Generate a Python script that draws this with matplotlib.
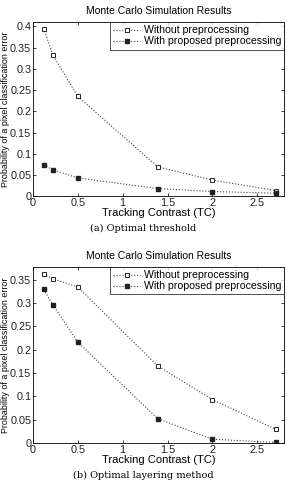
import matplotlib
matplotlib.use('Agg')
import matplotlib.pyplot as plt

# tracking contrast values (same for both panels)
tc = [0.12, 0.22, 0.5, 1.39, 2.0, 2.71]

# (a) optimal threshold
err_a_without = [0.395, 0.333, 0.235, 0.069, 0.038, 0.013]
err_a_with = [0.074, 0.062, 0.043, 0.018, 0.011, 0.007]

# (b) optimal layering method
err_b_without = [0.361, 0.352, 0.334, 0.165, 0.093, 0.029]
err_b_with = [0.329, 0.296, 0.216, 0.052, 0.008, 0.001]

legend_labels = ['Without preprocessing', 'With proposed preprocessing']
captions = ['(a) Optimal threshold', '(b) Optimal layering method']

plt.rcParams['font.family'] = ['Liberation Sans', 'DejaVu Sans']

fig = plt.figure(figsize=(2.87, 4.82), dpi=100)

def panel(rect, y1, y2, ymax, yticks):
    ax = fig.add_axes(rect)
    ax.plot(tc, y1, linestyle=':', color='#444444', lw=0.8, marker='s', ms=2.6,
            mfc='white', mec='#222222', mew=0.7, label=legend_labels[0])
    ax.plot(tc, y2, linestyle=':', color='#444444', lw=0.8, marker='s', ms=2.2,
            mfc='#222222', mec='#222222', label=legend_labels[1])
    ax.set_xlim(0, 2.8)
    ax.set_ylim(0, ymax)
    ax.set_xticks([0, 0.5, 1, 1.5, 2, 2.5])
    ax.set_xticklabels(['0', '0.5', '1', '1.5', '2', '2.5'])
    ax.set_yticks(yticks)
    ax.set_yticklabels(['0'] + ['%g' % v for v in yticks[1:]])
    ax.tick_params(direction='in', top=True, right=True, labelsize=7.8,
                   length=2.5, width=0.6, pad=1.2, colors='#222222')
    for s in ax.spines.values():
        s.set_linewidth(0.6)
    ax.set_title('Monte Carlo Simulation Results', fontsize=7.5, pad=6)
    ax.set_xlabel('Tracking Contrast (TC)', fontsize=8, labelpad=0)
    ax.set_ylabel('Probability of a pixel classification error', fontsize=6.4, labelpad=0)
    leg = ax.legend(loc='upper right', fontsize=7.6, handlelength=2.6,
                    borderaxespad=0, borderpad=0.3, labelspacing=0.1,
                    handletextpad=0.3, fancybox=False, frameon=True)
    leg.get_frame().set_edgecolor('black')
    leg.get_frame().set_linewidth(0.6)
    return ax

panel([0.115, 0.593, 0.875, 0.361], err_a_without, err_a_with, 0.41,
      [0, 0.05, 0.1, 0.15, 0.2, 0.25, 0.3, 0.35, 0.4])
panel([0.115, 0.081, 0.875, 0.365], err_b_without, err_b_with, 0.377,
      [0, 0.05, 0.1, 0.15, 0.2, 0.25, 0.3, 0.35])

fig.text(0.5, 1 - 228 / 482, captions[0], ha='center', va='center',
         fontsize=7, family='DejaVu Serif')
fig.text(0.5, 1 - 475 / 482, captions[1], ha='center', va='center',
         fontsize=7, family='DejaVu Serif')

fig.savefig('out.png', dpi=100)
